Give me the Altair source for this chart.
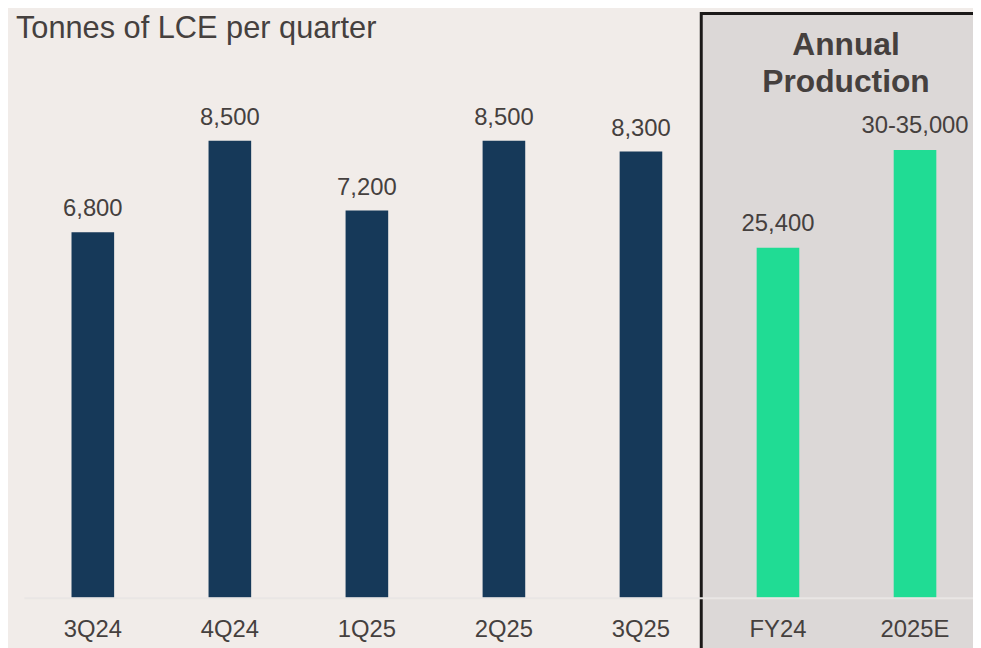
import altair as alt
import pandas as pd

# ---- data ----
categories = ["3Q24", "4Q24", "1Q25", "2Q25", "3Q25", "FY24", "2025E"]
quarter_cats = ["3Q24", "4Q24", "1Q25", "2Q25", "3Q25"]
quarter_vals = [6800, 8500, 7200, 8500, 8300]
annual_cats = ["FY24", "2025E"]
annual_vals = [25400, 32500]
annual_labels = ["25,400", "30-35,000"]
title_text = "Tonnes of LCE per quarter"
header_lines = ["Annual", "Production"]

qdf = pd.DataFrame({"cat": quarter_cats, "value": quarter_vals})
adf = pd.DataFrame({"cat": annual_cats, "value": annual_vals, "label": annual_labels})
one = pd.DataFrame({"k": [0]})

# ---- styles ----
BG = "#f1ece9"
BOX = "#dcd8d7"
NAVY = "#163959"
GREEN = "#20dc94"
TXT = "#45403e"
FONT = "Liberation Sans"

xenc = alt.X(
    "cat:N",
    sort=categories,
    scale=alt.Scale(domain=categories, paddingInner=0.689, paddingOuter=0.3077, align=0.565),
    axis=alt.Axis(
        title=None, ticks=False, grid=False, labelAngle=0,
        labelFont=FONT, labelFontSize=24, labelColor=TXT, labelPadding=20,
        domainColor="#e9e6e4", domainWidth=2, zindex=1,
    ),
)

box = alt.Chart(one).mark_rect(fill=BOX, stroke="#1b1918", strokeWidth=3).encode(
    x=alt.value(683), x2=alt.value(1200), y=alt.value(-36), y2=alt.value(800)
)

title = alt.Chart(one).mark_text(
    align="left", baseline="alphabetic", font=FONT, fontSize=31, color=TXT
).encode(x=alt.value(-8), y=alt.value(-11), text=alt.value(title_text))

header = alt.Chart(one).mark_text(
    align="center", baseline="alphabetic", font=FONT, fontSize=32, fontWeight="bold",
    color=TXT, lineHeight=37
).encode(x=alt.value(829), y=alt.value(6), text=alt.value(header_lines))

qy = alt.Y("value:Q", scale=alt.Scale(domain=[0, 10200]), axis=None)
qbars = alt.Chart(qdf).mark_bar(color=NAVY).encode(x=xenc, y=qy)
qtext = alt.Chart(qdf).mark_text(
    baseline="alphabetic", dy=-16, font=FONT, fontSize=24, color=TXT
).encode(x=xenc, y=qy, text=alt.Text("value:Q", format=","))
qlayer = alt.layer(qbars, qtext)

ay = alt.Y("value:Q", scale=alt.Scale(domain=[0, 39800]), axis=None)
abars = alt.Chart(adf).mark_bar(color=GREEN).encode(x=xenc, y=ay)
atext = alt.Chart(adf).mark_text(
    baseline="alphabetic", dy=-17, font=FONT, fontSize=24, color=TXT
).encode(x=xenc, y=ay, text="label:N")
alayer = alt.layer(abars, atext)

chart = alt.layer(box, title, header, qlayer, alayer).resolve_scale(
    y="independent"
).properties(
    width=957,
    height=553,
    autosize=alt.AutoSizeParams(type="none"),
    padding={"left": 16, "top": 39, "right": 0, "bottom": 48},
    background=BG,
).configure_view(stroke=None)

chart.save("out.html", embed_options={"renderer": "svg", "actions": False})
